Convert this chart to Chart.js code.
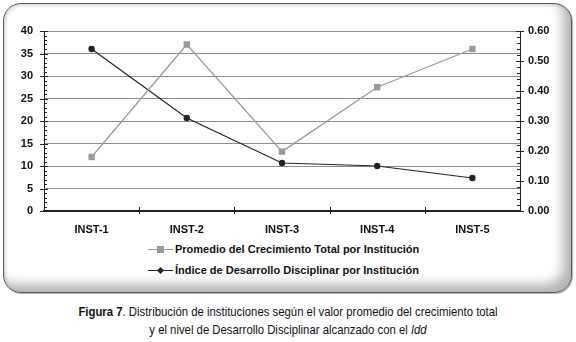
<!DOCTYPE html>
<html>
<head>
<meta charset="utf-8">
<script src="https://cdn.jsdelivr.net/npm/chart.js@4.4.1/dist/chart.umd.min.js"></script>
<style>
  body { margin: 0; background: #fff; width: 576px; height: 342px; position: relative; overflow: hidden; }
  #box {
    position: absolute; left: 3px; top: 3px; width: 567px; height: 288px;
    border: 1px solid #555; border-radius: 18px; background: #fff;
    box-shadow: inset -8px -8px 12px rgba(0,0,0,0.3), inset 2px 2px 3px rgba(0,0,0,0.12), 1px 1px 1px rgba(0,0,0,0.3);
  }
  #wrap { position: absolute; left: 0; top: 0; width: 576px; height: 235px; }
  .legend { position: absolute; left: 148px; font: bold 11px "Liberation Sans", Arial, sans-serif; color: #111; }
  .legend .row { position: relative; height: 21px; line-height: 21px; padding-left: 27px; white-space: nowrap; }
  .legend .ln { position: absolute; left: 0; top: 10px; width: 25px; height: 1px; }
  .legend .mk { position: absolute; }
  #caption { position: absolute; left: 0; top: 303px; width: 576px; text-align: center;
    font: 13.5px "Liberation Sans", Arial, sans-serif; color: #111; line-height: 18px;
    transform: scaleX(0.84); transform-origin: 288px 0; }
</style>
</head>
<body>
<div id="box"></div>
<div id="wrap"><canvas id="canvas"></canvas></div>
<div class="legend" style="top:239px">
  <div class="row"><span class="ln" style="background:#999"></span><span class="mk" style="left:9px;top:7px;width:7px;height:7px;background:#999"></span>Promedio del Crecimiento Total por Institución</div>
  <div class="row"><span class="ln" style="background:#222"></span><span class="mk" style="left:10px;top:8px;width:5px;height:5px;background:#222;transform:rotate(45deg)"></span>Índice de Desarrollo Disciplinar por Institución</div>
</div>
<div id="caption"><b>Figura 7</b>. Distribución de instituciones según el valor promedio del crecimiento total<br>y el nivel de Desarrollo Disciplinar alcanzado con el <i>Idd</i></div>
<script>
const categories = ['INST-1', 'INST-2', 'INST-3', 'INST-4', 'INST-5'];
const promedio = [12, 37, 13.2, 27.5, 36];
const indice = [0.54, 0.31, 0.16, 0.15, 0.11];
const leftTicks = [0, 5, 10, 15, 20, 25, 30, 35, 40];
const rightTicks = [0, 0.1, 0.2, 0.3, 0.4, 0.5, 0.6];

const axisFont = { family: '"Liberation Sans", Arial, sans-serif', size: 11, weight: 'bold' };

// small tick marks: minor ones inside the plot, major ones crossing the axis
const tickMarks = {
  id: 'tickMarks',
  afterDraw(chart) {
    const ctx = chart.ctx;
    const yl = chart.scales.y, yr = chart.scales.y1, x = chart.scales.x;
    const a = chart.chartArea;
    ctx.save();
    ctx.strokeStyle = '#222';
    ctx.lineWidth = 1;
    ctx.beginPath();
    for (let v = 0; v <= 40; v++) {
      const py = Math.round(yl.getPixelForValue(v)) + 0.5;
      if (v % 5 === 0) { ctx.moveTo(a.left - 4, py); ctx.lineTo(a.left + 4, py); }
      else { ctx.moveTo(a.left, py); ctx.lineTo(a.left + 3, py); }
    }
    for (let i = 0; i <= 30; i++) {
      const py = Math.round(yr.getPixelForValue(i * 0.02)) + 0.5;
      if (i % 5 === 0) { ctx.moveTo(a.right - 4, py); ctx.lineTo(a.right + 4, py); }
      else { ctx.moveTo(a.right - 3, py); ctx.lineTo(a.right, py); }
    }
    for (let i = 1; i < categories.length; i++) {
      const px = Math.round((x.getPixelForValue(i - 1) + x.getPixelForValue(i)) / 2) + 0.5;
      ctx.moveTo(px, a.bottom - 4); ctx.lineTo(px, a.bottom + 3);
    }
    ctx.stroke();
    ctx.restore();
  }
};

const ctx = document.getElementById('canvas').getContext('2d');
window.myChart = new Chart(ctx, {
  type: 'line',
  data: {
    labels: categories,
    datasets: [
      {
        label: 'Promedio del Crecimiento Total por Institución',
        data: promedio,
        yAxisID: 'y',
        borderColor: '#999',
        backgroundColor: '#999',
        borderWidth: 1.2,
        pointStyle: 'rect',
        pointRadius: 4.5,
        pointBorderWidth: 0
      },
      {
        label: 'Índice de Desarrollo Disciplinar por Institución',
        data: indice,
        yAxisID: 'y1',
        borderColor: '#222',
        backgroundColor: '#222',
        borderWidth: 1.2,
        pointStyle: 'circle',
        pointRadius: 3.2,
        pointBorderWidth: 0
      }
    ]
  },
  options: {
    responsive: true,
    maintainAspectRatio: false,
    animation: false,
    layout: { padding: { top: 31, left: 0, right: 0, bottom: 0 } },
    plugins: { legend: { display: false }, tooltip: { enabled: false } },
    scales: {
      x: {
        offset: true,
        grid: { display: false },
        border: { color: '#222', width: 2 },
        ticks: { color: '#111', font: axisFont, padding: 4 },
        afterFit(s) { s.height = 24; }
      },
      y: {
        position: 'left',
        min: 0, max: 40,
        afterBuildTicks(s) { s.ticks = leftTicks.map(v => ({ value: v })); },
        grid: { color: c => (c.tick && c.tick.value > 0 ? '#8c8c8c' : 'transparent'), drawTicks: false },
        border: { color: '#222', width: 1 },
        ticks: { color: '#111', font: axisFont, padding: 11 },
        afterFit(s) { s.width = 44; }
      },
      y1: {
        position: 'right',
        min: 0, max: 0.6,
        afterBuildTicks(s) { s.ticks = rightTicks.map(v => ({ value: v })); },
        grid: { display: false, drawTicks: false },
        border: { color: '#222', width: 1 },
        ticks: { color: '#111', font: axisFont, padding: 8, callback: v => v.toFixed(2) },
        afterFit(s) { s.width = 56; }
      }
    }
  },
  plugins: [tickMarks]
});
</script>
</body>
</html>
